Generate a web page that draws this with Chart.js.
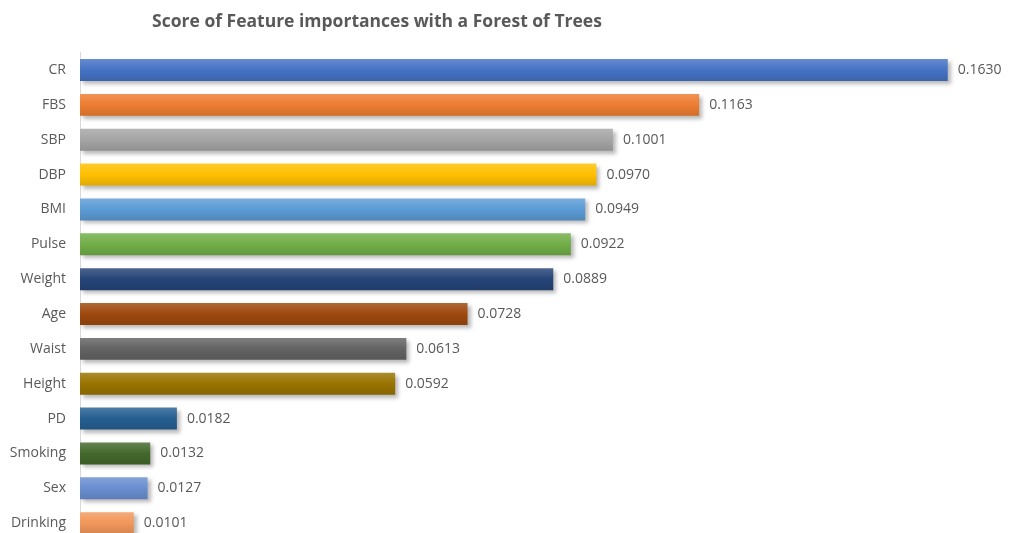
<!DOCTYPE html>
<html>
<head>
<meta charset="utf-8">
<script src="https://cdn.jsdelivr.net/npm/chart.js@4"></script>
<style>
  html, body { margin: 0; padding: 0; background: #fff; overflow: hidden; }
  #wrap { position: relative; width: 1009px; height: 563px; }
  #chart { display: block; }
  #title {
    position: absolute; left: 0; top: 8px; width: 754px; text-align: center;
    font: bold 17.5px "Open Sans", sans-serif; color: #595959;
  }
</style>
</head>
<body>
<div id="wrap">
  <div id="title">Score of Feature importances with a Forest of Trees</div>
  <canvas id="chart" width="1009" height="563"></canvas>
</div>
<script>
const features = ["CR", "FBS", "SBP", "DBP", "BMI", "Pulse", "Weight", "Age", "Waist", "Height", "PD", "Smoking", "Sex", "Drinking"];
const scores = [0.1630, 0.1163, 0.1001, 0.0970, 0.0949, 0.0922, 0.0889, 0.0728, 0.0613, 0.0592, 0.0182, 0.0132, 0.0127, 0.0101];
const barColors = ["#4472C4", "#ED7D31", "#A5A5A5", "#FFC000", "#5B9BD5", "#70AD47", "#264478", "#9E480E", "#636363", "#997300", "#255E91", "#43682B", "#698ED0", "#F1975A"];

// lighten / darken a hex colour
function shade(hex, amt) {
  const n = parseInt(hex.slice(1), 16);
  let r = n >> 16, g = (n >> 8) & 255, b = n & 255;
  const f = c => Math.max(0, Math.min(255, Math.round(amt > 0 ? c + (255 - c) * amt : c * (1 + amt))));
  return `rgb(${f(r)},${f(g)},${f(b)})`;
}

const BAR_PCT = 0.63;

function barGradient(context) {
  const chart = context.chart;
  const yScale = chart.scales.y;
  const i = context.dataIndex;
  const base = barColors[i];
  if (!yScale || i === undefined) return base;
  const yc = yScale.getPixelForValue(i);
  const half = (yScale.height / features.length) * BAR_PCT / 2;
  if (!isFinite(yc) || !isFinite(half) || half <= 0) return base;
  const g = chart.ctx.createLinearGradient(0, yc - half, 0, yc + half);
  g.addColorStop(0, shade(base, 0.18));
  g.addColorStop(0.5, base);
  g.addColorStop(1, shade(base, -0.12));
  return g;
}

const shadowPlugin = {
  id: "barShadow",
  beforeDatasetDraw(chart) {
    const ctx = chart.ctx;
    ctx.save();
    ctx.shadowColor = "rgba(0,0,0,0.28)";
    ctx.shadowBlur = 4;
    ctx.shadowOffsetX = 3;
    ctx.shadowOffsetY = 3;
  },
  afterDatasetDraw(chart) {
    chart.ctx.restore();
  }
};

const valueLabels = {
  id: "valueLabels",
  afterDatasetsDraw(chart) {
    const ctx = chart.ctx;
    const meta = chart.getDatasetMeta(0);
    ctx.save();
    ctx.font = "14px 'Open Sans', sans-serif";
    ctx.fillStyle = "#595959";
    ctx.textBaseline = "middle";
    ctx.textAlign = "left";
    meta.data.forEach((bar, i) => {
      ctx.fillText(scores[i].toFixed(4), bar.x + 10, bar.y);
    });
    ctx.restore();
  }
};

const chart = new Chart(document.getElementById("chart"), {
  type: "bar",
  data: {
    labels: features,
    datasets: [{
      data: scores,
      backgroundColor: barGradient,
      borderWidth: 0,
      barPercentage: BAR_PCT,
      categoryPercentage: 1
    }]
  },
  options: {
    indexAxis: "y",
    responsive: false,
    animation: false,
    layout: { padding: { top: 52.6, bottom: 5.6, left: 0, right: 24 } },
    plugins: {
      legend: { display: false },
      title: { display: false },
      tooltip: { enabled: false }
    },
    scales: {
      x: { display: false, min: 0, max: 0.17 },
      y: {
        grid: { display: false, drawTicks: false },
        border: { display: true, color: "#D9D9D9", width: 1 },
        ticks: { color: "#595959", font: { family: "'Open Sans', sans-serif", size: 14 }, padding: 14 },
        afterFit(scale) { scale.width = 80; }
      }
    }
  },
  plugins: [shadowPlugin, valueLabels]
});
// second pass so the gradients see the laid-out scale
chart.update();
</script>
</body>
</html>
